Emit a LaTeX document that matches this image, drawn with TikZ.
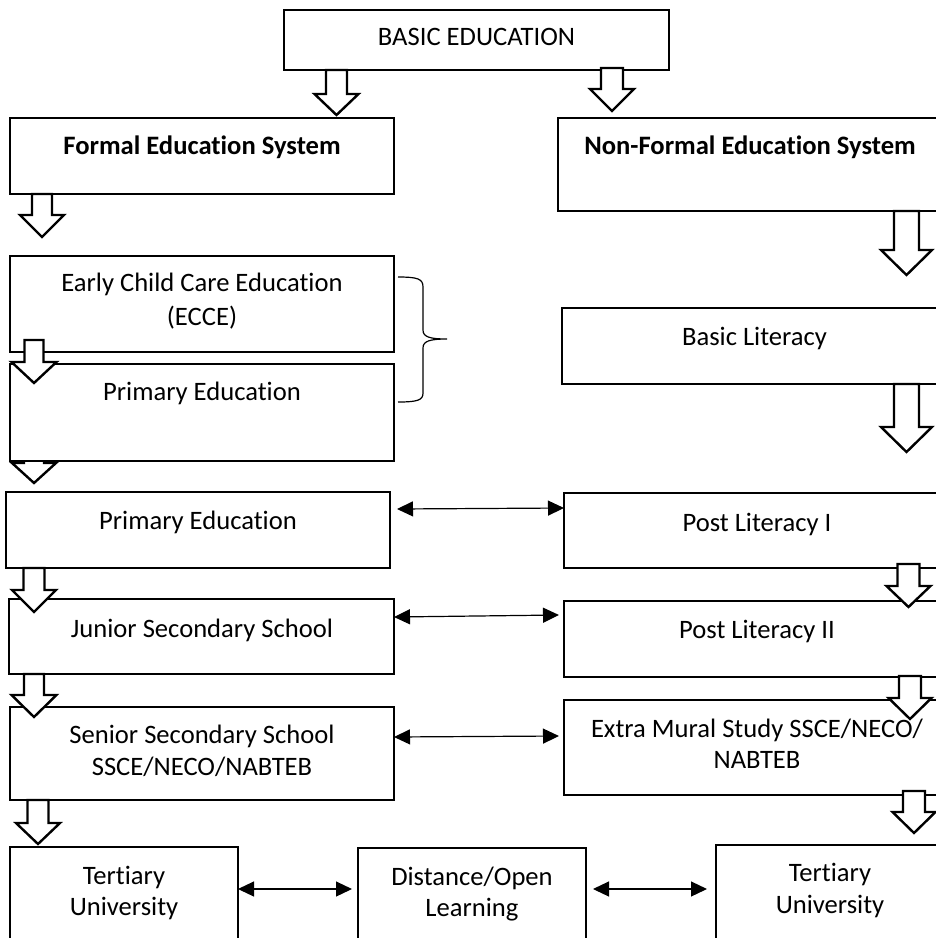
\documentclass[tikz,border=0pt]{standalone}
\usepackage{fontspec}
\setmainfont{Carlito}[Ligatures=NoCommon]
\usetikzlibrary{arrows.meta,fit}
\tikzset{
 box/.style={draw=black, fill=white, line width=0.65pt, inner sep=0pt, outer sep=0pt},
 txt/.style={font=\fontsize{13.3pt}{17pt}\selectfont, inner sep=0pt, anchor=base},
 btxt/.style={font=\fontsize{13.3pt}{17pt}\selectfont\bfseries, inner sep=0pt, anchor=base},
 harr/.style={draw=black, fill=white, line width=1.2pt, line join=miter},
 dbl/.style={line width=0.6pt, {Triangle[length=8pt,width=7.5pt]}-{Triangle[length=8pt,width=7.5pt]}},
 bracestyle/.style={line width=0.6pt}
}
\newcommand\mkbox[5]{\path (#2,#3) coordinate (#1-a) (#4,#5) coordinate (#1-b); \node[box, fit=(#1-a)(#1-b)] (#1) {};}
\newcommand\harrow[6]{\draw[harr] ({#1-#5},#2) -- ({#1+#5},#2) -- ({#1+#5},#3) -- ({#1+#6},#3) -- (#1,#4) -- ({#1-#6},#3) -- ({#1-#5},#3) -- cycle;}
\begin{document}
\begin{tikzpicture}[x=0.5pt, y=-0.5pt]
\useasboundingbox (0,0) rectangle (936,938);
\clip (0,0) rectangle (936,938);
\fill[white] (0,0) rectangle (936,938);

% arrow hidden behind the Primary Education box
\harrow{34}{440}{463}{483}{10}{22}

% boxes
\mkbox{basic}{284}{10}{669}{70}
\mkbox{formal}{10}{118}{394}{194}
\mkbox{nonformal}{558}{118}{945}{211}
\mkbox{ecce}{10}{256}{394}{352}
\mkbox{primary}{10}{364}{394}{461}
\mkbox{basiclit}{562}{308}{947}{384}
\mkbox{primary2}{6}{492}{390}{568}
\mkbox{postlit1}{564}{493}{950}{568}
\mkbox{junior}{9}{599}{394}{674}
\mkbox{postlit2}{564}{601}{950}{677}
\mkbox{senior}{10}{707}{394}{800}
\mkbox{extra}{564}{700}{950}{795}
\mkbox{tert1}{10}{847}{238}{970}
\mkbox{dist}{358}{848}{586}{970}
\mkbox{tert2}{716}{845}{944}{970}

% hollow block arrows
\harrow{336.5}{70}{94}{115}{10.5}{22}
\harrow{612}{68}{89}{111}{11}{22}
\harrow{42}{194}{215}{237}{10}{22}
\harrow{34}{340}{362}{383}{9.5}{22.5}
\harrow{34}{568}{590}{612}{10.5}{22}
\harrow{34}{674}{695}{717}{10}{22.5}
\harrow{38}{800}{823}{844}{10.5}{22}
\harrow{906.5}{211}{250}{275}{12.5}{25.5}
\harrow{906.5}{384}{427}{452}{12.5}{25.5}
\harrow{908.5}{564}{586}{607}{11}{22}
\harrow{910}{676}{698}{719}{11}{21.5}
\harrow{914}{791}{812}{833}{11}{21.5}

% double-headed connectors
\draw[dbl] ([shift={(7,17)}]primary2.north east) -- ([shift={(0,15)}]postlit1.north west);
\draw[dbl] ([shift={(0,18)}]junior.north east) -- ([shift={(-5,14)}]postlit2.north west);
\draw[dbl] ([shift={(0,30)}]senior.north east) -- ([shift={(-5,36)}]extra.north west);
\draw[dbl] ([shift={(0,42)}]tert1.north east) -- ([shift={(-6,41)}]dist.north west);
\draw[dbl] ([shift={(7,41)}]dist.north east) -- ([shift={(-9,44)}]tert2.north west);

% brace
\draw[bracestyle] (398,277) .. controls (418,277) and (423,279) .. (423,287) -- (423,330)
  .. controls (423,337) and (430,339) .. (447,339)
  .. controls (430,339) and (423,341) .. (423,348) -- (423,393)
  .. controls (423,400) and (418,402) .. (398,402);

% texts
\node[txt] (t-basic) at (476.5,45.5) {BASIC EDUCATION};
\node[btxt] (t-formal) at (202,154) {Formal Education System};
\node[btxt] (t-nonformal) at (750,154) {Non-Formal Education System};
\node[txt] (t-ecce1) at (202,291) {Early Child Care Education};
\node[txt] (t-ecce2) at (202,325) {(ECCE)};
\node[txt] (t-primary) at (202,400) {Primary Education};
\node[txt] (t-basiclit) at (754.5,345) {Basic Literacy};
\node[txt] (t-primary2) at (198,529) {Primary Education};
\node[txt] (t-post1) at (757,531) {Post Literacy I};
\node[txt] (t-junior) at (202,637) {Junior Secondary School};
\node[txt] (t-post2) at (757,638) {Post Literacy II};
\node[txt] (t-senior1) at (202,743) {Senior Secondary School};
\node[txt] (t-senior2) at (202,775) {SSCE/NECO/NABTEB};
\node[txt] (t-extra1) at (757,737) {Extra Mural Study SSCE/NECO/};
\node[txt] (t-extra2) at (757,768) {NABTEB};
\node[txt] (t-tert1a) at (124,884) {Tertiary};
\node[txt] (t-tert1b) at (124,915) {University};
\node[txt] (t-dista) at (472,885) {Distance/Open};
\node[txt] (t-distb) at (472,916) {Learning};
\node[txt] (t-tert2a) at (830,881) {Tertiary};
\node[txt] (t-tert2b) at (830,913) {University};
\end{tikzpicture}
\end{document}
